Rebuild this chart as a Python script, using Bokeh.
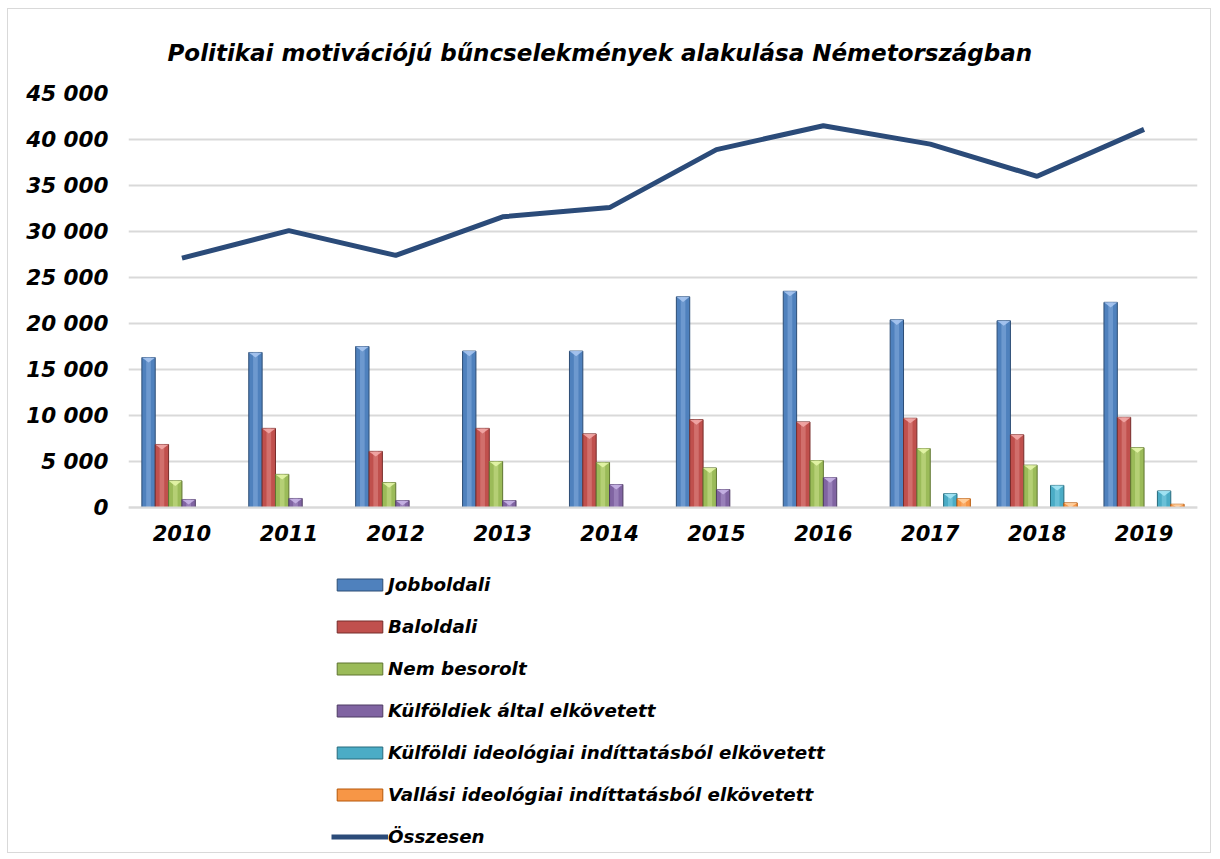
from bokeh.plotting import figure
from bokeh.models import Range1d, FixedTicker, Legend, LegendItem, ColumnDataSource
from bokeh.embed import file_html
from bokeh.resources import INLINE

years = ["2010", "2011", "2012", "2013", "2014", "2015", "2016", "2017", "2018", "2019"]
jobboldali = [16300, 16850, 17500, 17000, 17000, 22900, 23500, 20400, 20300, 22300]
baloldali = [6850, 8600, 6100, 8600, 8000, 9550, 9300, 9700, 7900, 9800]
nem_besorolt = [2900, 3600, 2700, 5000, 4900, 4300, 5100, 6400, 4600, 6500]
kulfoldiek = [870, 980, 760, 760, 2500, 1950, 3250, 0, 0, 0]
kulfoldi_ideol = [0, 0, 0, 0, 0, 0, 0, 1500, 2400, 1800]
vallasi_ideol = [0, 0, 0, 0, 0, 0, 0, 950, 500, 350]
osszesen = [27100, 30100, 27400, 31600, 32600, 38900, 41500, 39500, 36000, 41100]

y_ticks = [0, 5000, 10000, 15000, 20000, 25000, 30000, 35000, 40000, 45000]
y_labels = ["0", "5 000", "10 000", "15 000", "20 000", "25 000", "30 000", "35 000", "40 000", "45 000"]

series_names = ["Jobboldali", "Baloldali", "Nem besorolt", "Külföldiek által elkövetett",
                "Külföldi ideológiai indíttatásból elkövetett", "Vallási ideológiai indíttatásból elkövetett"]
series_vals = [jobboldali, baloldali, nem_besorolt, kulfoldiek, kulfoldi_ideol, vallasi_ideol]
fills = ["#4F81BD", "#C0504D", "#9BBB59", "#8064A2", "#4BACC6", "#F79646"]
edges = ["#2C4D75", "#772C2A", "#5F7530", "#4D3B62", "#276A7C", "#B65708"]
lights = ["#A7C5F0", "#F2A9A7", "#E4F5A8", "#C8B4E6", "#A5E6F5", "#FFD0A0"]
line_color = "#2B4B79"

FONT = "DejaVu Sans"

# frame spans the whole lower area so the legend can live inside it;
# the value axis range extends below zero (unused space for labels/legend)
Y_MAX = 45000
Y_MIN = -Y_MAX * (850 - 506) / (506 - 92)

p = figure(width=1204, height=845, output_backend="svg", toolbar_location=None,
           x_range=Range1d(-0.5, 9.5), y_range=Range1d(Y_MIN, Y_MAX),
           min_border_left=120, min_border_right=15, min_border_top=84, min_border_bottom=3,
           title="Politikai motivációjú bűncselekmények alakulása Németországban")
p.styles = {"border": "1px solid #d9d9d9", "margin-left": "7px", "margin-top": "8px"}
p.outline_line_color = None
p.background_fill_color = "white"
p.border_fill_color = "white"

p.title.align = "left"
p.title.offset = 39
p.title.text_font = FONT
p.title.text_font_style = "bold italic"
p.title.text_font_size = "23px"
p.title.text_color = "black"
p.title.standoff = 55

xs = list(range(len(years)))
bw = 0.125
offsets = [-0.3125, -0.1875, -0.0625, 0.0625, 0.1875, 0.3125]

p.xgrid.grid_line_color = None
p.ygrid.ticker = FixedTicker(ticks=y_ticks)
p.ygrid.grid_line_color = "#d9d9d9"
p.ygrid.grid_line_width = 2

legend_items = []
for name, vals, fc, ec, lc, off in zip(series_names, series_vals, fills, edges, lights, offsets):
    bx = [x + off for x, v in zip(xs, vals) if v > 0]
    by = [v for v in vals if v > 0]
    src = ColumnDataSource(dict(x=bx, top=by))
    r = p.vbar(x="x", top="top", width=bw, source=src, fill_color=fc, line_color=ec, line_width=1)
    # highlight strip for bevel look
    p.vbar(x="x", top="top", width=bw * 0.35, source=src, fill_color=lc, fill_alpha=0.35, line_color=None)
    # top bevel triangle
    txs = [[x - bw / 2, x + bw / 2, x] for x in bx]
    tys = [[t, t, t - min(550, t)] for t in by]
    p.patches(txs, tys, fill_color=lc, line_color=None, fill_alpha=0.9)
    legend_items.append(LegendItem(label=name, renderers=[r]))

lr = p.line(xs, osszesen, line_color=line_color, line_width=5)
legend_items.append(LegendItem(label="Összesen", renderers=[lr]))

# axes
p.xaxis.fixed_location = 0
p.xaxis.ticker = FixedTicker(ticks=xs)
p.xaxis.major_label_overrides = {i: y for i, y in enumerate(years)}
p.xaxis.major_tick_line_color = None
p.xaxis.minor_tick_line_color = None
p.xaxis.axis_line_color = "#d9d9d9"
p.xaxis.axis_line_width = 2
p.xaxis.major_label_text_font = FONT
p.xaxis.major_label_text_font_style = "bold italic"
p.xaxis.major_label_text_font_size = "21px"
p.xaxis.major_label_text_color = "black"
p.xaxis.major_label_standoff = 11

p.yaxis.ticker = FixedTicker(ticks=y_ticks)
p.yaxis.major_label_overrides = {t: l for t, l in zip(y_ticks, y_labels)}
p.yaxis.axis_line_color = None
p.yaxis.major_tick_line_color = None
p.yaxis.minor_tick_line_color = None
p.yaxis.major_label_text_font = FONT
p.yaxis.major_label_text_font_style = "bold italic"
p.yaxis.major_label_text_font_size = "21.5px"
p.yaxis.major_label_text_color = "black"
p.yaxis.major_label_standoff = 14

legend = Legend(items=legend_items, location=(203, 4), orientation="vertical",
                glyph_width=57, glyph_height=15, label_text_font=FONT,
                label_text_font_style="bold italic", label_text_font_size="18.3px",
                label_text_color="black", spacing=20, padding=0, margin=0,
                border_line_color=None, background_fill_alpha=0, label_standoff=0,
                label_height=22)
p.add_layout(legend, "center")

open("out.html", "w").write(file_html(p, INLINE))
